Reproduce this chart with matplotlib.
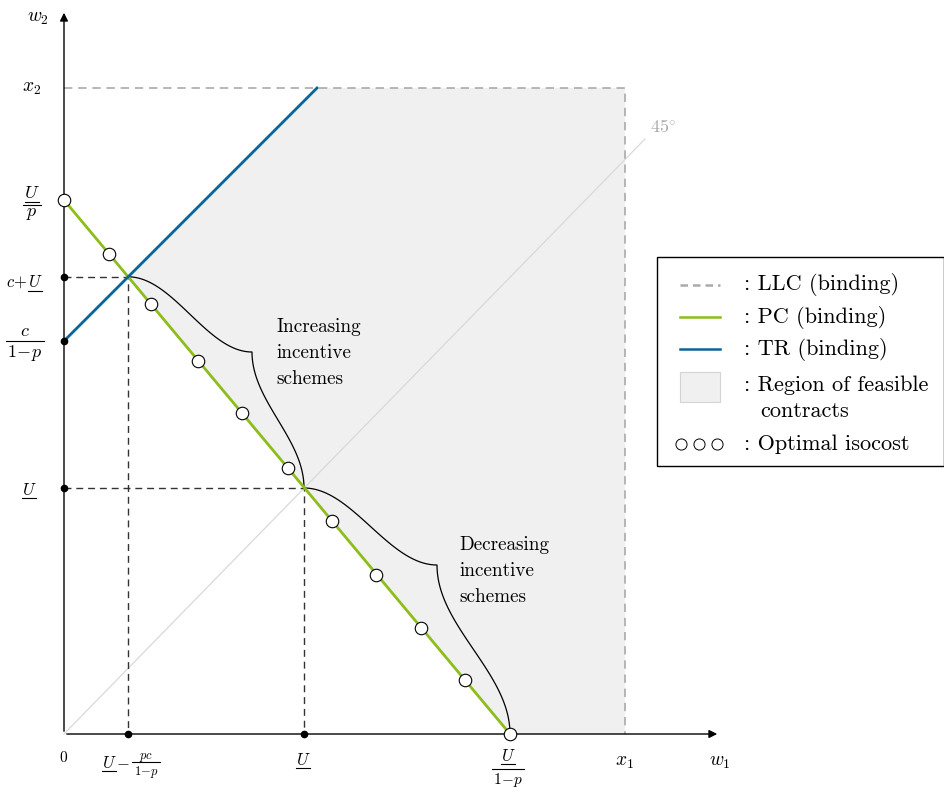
import numpy as np
import matplotlib.pyplot as plt
from matplotlib.patches import Polygon, Rectangle
from matplotlib.lines import Line2D

plt.rcParams['font.family'] = 'serif'
plt.rcParams['font.serif'] = ['cmr10']
plt.rcParams['mathtext.fontset'] = 'cm'
plt.rcParams['axes.formatter.use_mathtext'] = True

# --- values (1 unit ~ 100 px) ---
U_w1 = 2.40        # U marked on the w1 axis
U_w2 = 2.46        # U marked on the w2 axis
pc_top = 5.34      # U/p
pc_right = 4.46    # U/(1-p)
tr_icpt = 3.93     # c/(1-p)
x1 = 5.61
x2 = 6.46
ang45_end = (5.81, 5.95)

# optimal isocost points sitting on the PC line
iso_w1 = [0.00, 0.45, 0.87, 1.34, 1.78, 2.24, 2.68, 3.12, 3.57, 4.01, 4.46]
iso_w2 = [5.34, 4.80, 4.30, 3.73, 3.21, 2.66, 2.13, 1.59, 1.06, 0.54, 0.00]

# kinks of the two "incentive schemes" curves
inc_kink = (1.88, 3.82)
dec_kink = (3.73, 1.69)

GREEN = '#8cbd1a'
BLUE = '#0a6496'
GREY = '#aaaaaa'
FILL = '#f0f0f0'

# PC / TR intersection
a_w1 = (pc_top - tr_icpt) / (1 + pc_top / pc_right)
A = (a_w1, tr_icpt + a_w1)
Ustar = (U_w1, U_w2)

W, H = 945, 789
fig = plt.figure(figsize=(W / 100, H / 100), dpi=100)
ax = fig.add_axes([0, 0, 1, 1])
ax.set_xlim(-0.64, 8.81)
ax.set_ylim(-0.55, 7.34)
ax.axis('off')

# feasible region
region = Polygon([A, (x2 - tr_icpt, x2), (x1, x2), (x1, 0), (pc_right, 0)],
                 closed=True, facecolor=FILL, edgecolor='none', zorder=1)
ax.add_patch(region)

# 45 degree line
ax.plot([0, ang45_end[0]], [0, ang45_end[1]], color='#d9d9d9', lw=0.9, zorder=2)

# LLC
ax.plot([0, x1, x1], [x2, x2, 0], color=GREY, lw=1.2, dashes=(5, 3.5), zorder=2)

# black dashed guides
ax.plot([0, A[0], A[0]], [A[1], A[1], 0], color='#333333', lw=1.0, dashes=(5, 3.5), zorder=3)
ax.plot([0, U_w1, U_w1], [U_w2, U_w2, 0], color='#333333', lw=1.0, dashes=(5, 3.5), zorder=3)


def sig_curve(p0, p1, horizontal_start=True, n=60):
    t = np.linspace(0, 1, n)
    s = (1 - np.cos(np.pi * t)) / 2
    if horizontal_start:
        return p0[0] + (p1[0] - p0[0]) * t, p0[1] + (p1[1] - p0[1]) * s
    return p0[0] + (p1[0] - p0[0]) * s, p0[1] + (p1[1] - p0[1]) * t


for start, kink, end in [(A, inc_kink, Ustar), (Ustar, dec_kink, (pc_right, 0))]:
    xa, ya = sig_curve(start, kink, True)
    xb, yb = sig_curve(kink, end, False)
    ax.plot(np.r_[xa, xb], np.r_[ya, yb], color='black', lw=0.9, zorder=4)

# PC and TR
ax.plot([0, pc_right], [pc_top, 0], color=GREEN, lw=2.0, zorder=5)
ax.plot([0, x2 - tr_icpt], [tr_icpt, x2], color=BLUE, lw=2.0, zorder=5)

# axes with arrows
ax.annotate('', xy=(6.56, 0), xytext=(0, 0),
            arrowprops=dict(arrowstyle='-|>', color='black', lw=1.0, mutation_scale=12), zorder=6)
ax.annotate('', xy=(0, 7.24), xytext=(0, 0),
            arrowprops=dict(arrowstyle='-|>', color='black', lw=1.0, mutation_scale=12), zorder=6)

# small black dots
ax.plot([0, 0, 0, A[0], U_w1], [A[1], tr_icpt, U_w2, 0, 0], 'o', color='black', ms=4.5, zorder=7)

# isocost circles
ax.plot(iso_w1, iso_w2, 'o', ms=9, mfc='white', mec='black', mew=0.8, zorder=8)


# ---------- labels, placed in reference pixel positions ----------
def fxy(px, py):
    return px / W, 1 - py / H


def put(px, py, s, size, ha='center', va='baseline', **kw):
    return fig.text(*fxy(px, py), s, fontsize=size, ha=ha, va=va, **kw)


def hline(px0, px1, py, lw=0.8, color='black'):
    (a, b), (c2, d) = fxy(px0, py), fxy(px1, py)
    fig.lines.append(Line2D([a, c2], [b, d], transform=fig.transFigure, color=color, lw=lw))


underlined = []   # texts that need a bar under them (mathtext has no \underline)
fracs = []        # (num, den, bar_py)

put(38, 18, r'$w_2$', 14, va='center')
put(32, 88, r'$x_2$', 14, va='center')

# U / p
t = put(32, 198, r'$U$', 13)
underlined.append((t, 201.5))
d = put(32, 206, r'$p$', 13, va='top')
fracs.append((t, d, 205))

# c + U
put(28, 287, r'$c\!+$', 12, ha='right')
underlined.append((put(28, 287, r'$U$', 12, ha='left'), 291))

# c / (1-p)
t = put(25, 336, r'$c$', 13)
d = put(25, 343, r'$1\!-\!p$', 13, va='top')
fracs.append((t, d, 341))

underlined.append((put(29, 495, r'$U$', 12), 498))

put(64, 757, r'$0$', 11, va='center')

# U - pc/(1-p)
underlined.append((put(109, 768, r'$U$', 12), 771))
put(123, 763, r'$-$', 12, va='center')
t = put(146, 759, r'$pc$', 9)
d = put(146, 764, r'$1\!-\!p$', 9, va='top')
fracs.append((t, d, 762))

underlined.append((put(303, 765, r'$U$', 12), 768))

# U / (1-p)
t = put(508, 761, r'$U$', 12)
underlined.append((t, 764))
d = put(508, 771, r'$1\!-\!p$', 11, va='top')
fracs.append((t, d, 769))

put(624, 762, r'$x_1$', 14, va='center')
put(720, 762, r'$w_1$', 14, va='center')

put(663, 127, r'$45^{\circ}$', 13, va='center', color='#aaaaaa')

for i, line in enumerate(['Increasing', 'incentive', 'schemes']):
    put(276, 332 + 26 * i, line, 13.8, ha='left')
for i, line in enumerate(['Decreasing', 'incentive', 'schemes']):
    put(459, 550 + 26 * i, line, 13.8, ha='left')

# legend drawn by hand
lx0, ly0 = fxy(657, 466)
lx1, ly1 = fxy(944, 257)
fig.patches.append(Rectangle((lx0, ly0), lx1 - lx0, ly1 - ly0, transform=fig.transFigure,
                             facecolor='white', edgecolor='black', lw=1.0, zorder=10))
leg_rows = [
    ('llc', 285, ': LLC (binding)'),
    ('pc', 317, ': PC (binding)'),
    ('tr', 349, ': TR (binding)'),
    ('reg', 385, ': Region of feasible'),
    ('iso', 444, ': Optimal isocost'),
]
for kind, py, label in leg_rows:
    if kind == 'llc':
        fig.lines.append(Line2D(*zip(fxy(680, py), fxy(720, py)), transform=fig.transFigure,
                                color=GREY, lw=1.8, dashes=(3, 2), zorder=11))
    elif kind in ('pc', 'tr'):
        fig.lines.append(Line2D(*zip(fxy(680, py), fxy(720, py)), transform=fig.transFigure,
                                color=GREEN if kind == 'pc' else BLUE, lw=1.8, zorder=11))
    elif kind == 'reg':
        rx, ry = fxy(680, 402)
        rx2, ry2 = fxy(720, 372)
        fig.patches.append(Rectangle((rx, ry), rx2 - rx, ry2 - ry, transform=fig.transFigure,
                                     facecolor=FILL, edgecolor='#d4d4d4', lw=0.8, zorder=11))
    else:
        xs = [fxy(x, py)[0] for x in (681, 699, 717)]
        fig.lines.append(Line2D(xs, [fxy(0, py)[1]] * 3, transform=fig.transFigure, ls='none',
                                marker='o', ms=8, mfc='white', mec='black', mew=0.7, zorder=11))
    put(744, py, label, 16, ha='left', va='center', zorder=12)
put(760, 411, 'contracts', 16, ha='left', va='center', zorder=12)

# underline bars and fraction bars need text extents
fig.canvas.draw()
rend = fig.canvas.get_renderer()
for t, py in underlined:
    bb = t.get_window_extent(rend)
    hline(bb.x0 + 0.5, bb.x1 - 0.5, py)
for num, den, py in fracs:
    b1, b2 = num.get_window_extent(rend), den.get_window_extent(rend)
    hline(min(b1.x0, b2.x0) - 1.5, max(b1.x1, b2.x1) + 1.5, py)

fig.savefig('out.png', dpi=100, facecolor='white')
